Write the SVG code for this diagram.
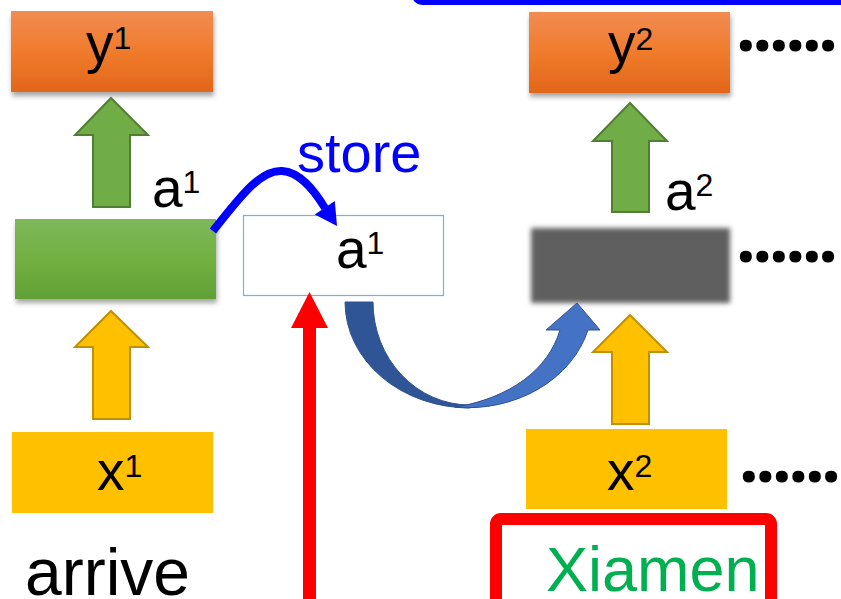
<svg xmlns="http://www.w3.org/2000/svg" width="841" height="599" viewBox="0 0 841 599">
<style>
.t{font-family:"Liberation Sans",Arial,sans-serif;fill:#000}
.m{font-size:55px}
.s{font-size:32px}
.dots{font-family:"Noto Sans","Open Sans",sans-serif;font-weight:bold;font-size:70px;letter-spacing:-3.2px;fill:#000}
.up-g{fill:#70AD47;stroke:#507E32;stroke-width:2}
.up-y{fill:#FFC000;stroke:#BF9000;stroke-width:2}
</style>
<defs>
<linearGradient id="gOr" x1="0" y1="0" x2="0" y2="1">
<stop offset="0" stop-color="#F18C52"/><stop offset="0.5" stop-color="#F07B2C"/><stop offset="1" stop-color="#E2661A"/>
</linearGradient>
<linearGradient id="gGr" x1="0" y1="0" x2="0" y2="1">
<stop offset="0" stop-color="#7EB85C"/><stop offset="0.5" stop-color="#71B041"/><stop offset="1" stop-color="#61A035"/>
</linearGradient>
<filter id="sh" x="-10%" y="-20%" width="125%" height="150%">
<feDropShadow dx="1" dy="4" stdDeviation="2.5" flood-color="#000" flood-opacity="0.35"/>
</filter>
<filter id="blur" x="-10%" y="-20%" width="120%" height="140%">
<feGaussianBlur stdDeviation="2.5"/>
</filter>
</defs>
<rect width="841" height="599" fill="#fff"/>

<g id="topline">
<rect x="415" y="-60" width="500" height="62" rx="7" fill="none" stroke="#0000FF" stroke-width="6"/>
</g>

<g id="y1">
<rect x="11" y="11" width="202" height="81" fill="url(#gOr)" filter="url(#sh)"/>
<text class="t m" x="86" y="62">y<tspan class="s" dy="-13">1</tspan></text>
</g>

<g id="h1">
<rect x="15" y="219" width="201" height="80" fill="url(#gGr)" filter="url(#sh)"/>
</g>

<g id="x1">
<rect x="12" y="432" width="201" height="81" fill="#FFC000"/>
<text class="t m" x="97" y="490">x<tspan class="s" dy="-13">1</tspan></text>
</g>

<g id="label-a1">
<text class="t m" x="152" y="207">a<tspan class="s" dy="-14">1</tspan></text>
</g>

<g id="store-label">
<text x="297" y="172" font-family="'Liberation Sans',Arial,sans-serif" font-size="56" fill="#0000FF">store</text>
</g>

<g id="mem">
<rect x="243.5" y="215.5" width="200" height="80" fill="#fff" stroke="#7FAEDD" stroke-width="1.2"/>
<text class="t m" x="336" y="268">a<tspan class="s" dy="-14">1</tspan></text>
</g>

<g id="y2">
<rect x="529" y="12" width="201" height="81" fill="url(#gOr)" filter="url(#sh)"/>
<text class="t m" x="608" y="62">y<tspan class="s" dy="-12">2</tspan></text>
</g>

<g id="label-a2">
<text class="t m" x="665" y="210">a<tspan class="s" dy="-14">2</tspan></text>
</g>

<g id="h2">
<rect x="531" y="228" width="199" height="75" fill="#5F5F5F" filter="url(#blur)"/>
</g>

<g id="x2">
<rect x="526" y="429" width="201" height="80" fill="#FFC000"/>
<text class="t m" x="607" y="490">x<tspan class="s" dy="-13">2</tspan></text>
</g>

<g id="dots">
<text class="dots" x="736" y="51">......</text>
<text class="dots" x="736" y="262">......</text>
<text class="dots" x="739" y="482">......</text>
</g>

<g id="arrive">
<text class="t" x="25" y="595" font-size="66">arrive</text>
</g>

<g id="xiamen">
<rect x="496" y="519" width="275" height="120" rx="5" fill="none" stroke="#FF0000" stroke-width="12"/>
<text x="546" y="591" font-family="'Liberation Sans',Arial,sans-serif" font-size="63" fill="#00B050">Xiamen</text>
</g>

<g id="connectors">
<polygon class="up-g" points="111,98 148,135 130,135 130,207 93,207 93,135 75,135"/>
<polygon class="up-g" points="630,103 667,141 649,141 649,212 612,212 612,141 593,141"/>
<polygon class="up-y" points="111,311 148,347 130,347 130,419 93,419 93,347 75,347"/>
<polygon class="up-y" points="630,315 667,352 649,352 649,424 612,424 612,352 593,352"/>
<path d="M213,231 C245,190 262,170 282,171 C300,172 314,190 325,208" fill="none" stroke="#0000FF" stroke-width="8"/>
<polygon points="337,226 314.8,214.4 334.8,201" fill="#0000FF"/>
<rect x="303" y="326" width="13" height="280" fill="#FF0000"/>
<polygon points="309.5,292 328,328 291,328" fill="#FF0000"/>
<path d="M345,302 L373,302 A97 103 0 0 0 470,405 L470,408 A125 106 0 0 1 345,302 Z" fill="#2F5597" stroke="#2F528F" stroke-width="1"/>
<path d="M455,407.2 A125 106 0 0 0 588,330 L600,330 L577,303 L546,330 L560,330 C548,370 510,398 455,407.2 Z" fill="#4472C4" stroke="#2F528F" stroke-width="1"/>
</g>
</svg>
